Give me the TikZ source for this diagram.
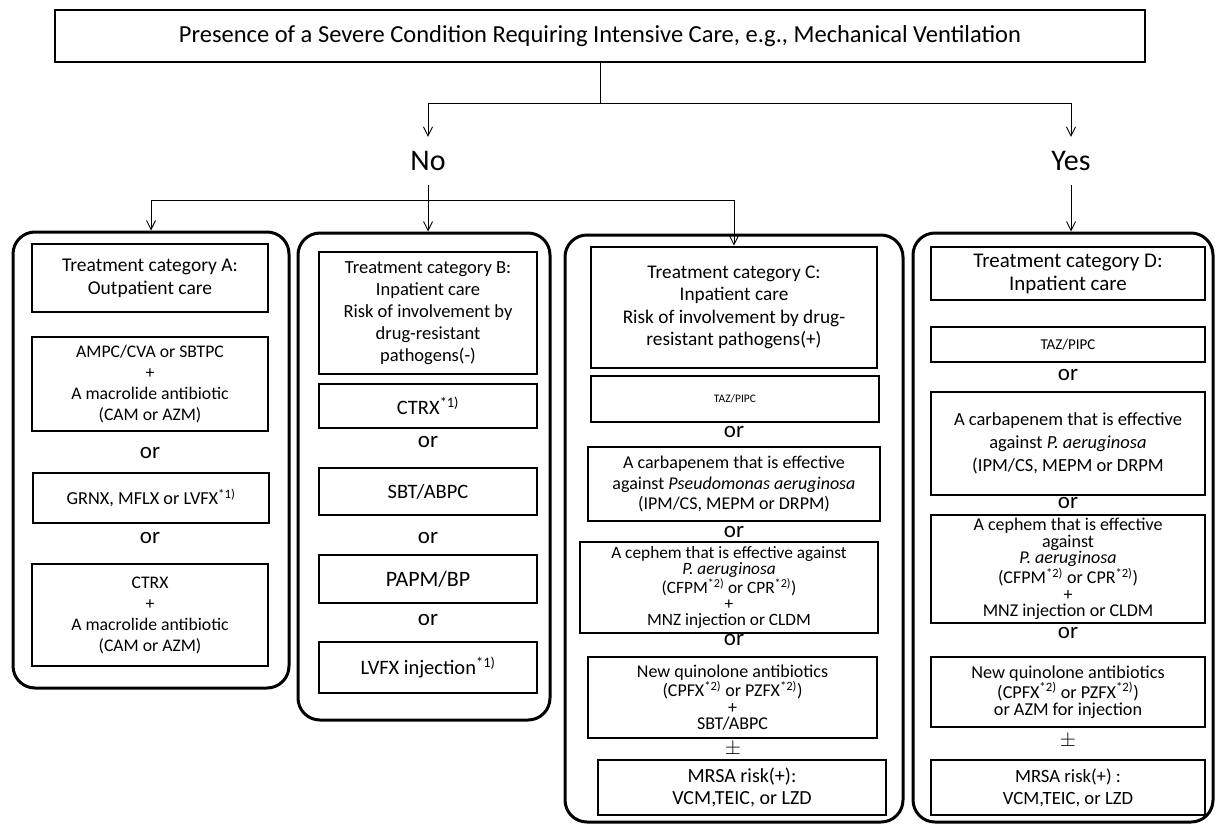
\documentclass[tikz,border=0pt]{standalone}
\usepackage{fontspec}
\setmainfont{Carlito}
\usetikzlibrary{arrows.meta}
\newcommand\fsz[2]{\fontsize{#1}{#2}\selectfont}
\begin{document}
\begin{tikzpicture}[x=1pt,y=-1pt,
  box/.style={draw, line width=2.8pt, rectangle, align=center, inner sep=1pt},
  cont/.style={draw, line width=3pt, rounded corners=22pt, rectangle},
  arr/.style={-{Straight Barb[length=9pt,width=9pt]}, line width=0.9pt},
  ln/.style={line width=0.9pt},
  ortxt/.style={font=\fsz{23}{23}, inner sep=0pt},
  pmtxt/.style={font=\fsz{20}{20}, inner sep=0pt}]
\useasboundingbox (0,0) rectangle (1217,824);
% top
\node[box, minimum width=1090, minimum height=52, font=\fsz{24.5}{28}] (top) at (600,36)
  {Presence of a Severe Condition Requiring Intensive Care, e.g., Mechanical Ventilation};
\node[inner sep=0pt, minimum height=48, font=\fsz{30}{30}] (no) at (428,161) {No};
\node[inner sep=0pt, minimum height=48, font=\fsz{30}{30}] (yes) at (1071,161) {Yes};
% containers
\node[cont, minimum width=276, minimum height=456] (A) at (151,460) {};
\node[cont, minimum width=252, minimum height=487] (B) at (424,476.5) {};
\node[cont, minimum width=338, minimum height=587] (C) at (734,528.5) {};
\node[cont, minimum width=300, minimum height=589] (D) at (1063,527.5) {};
% A
\node[box, minimum width=236, minimum height=68, font=\fsz{19.5}{23}] (At) at (150,278)
  {Treatment category A:\\Outpatient care};
\node[box, minimum width=236, minimum height=94, font=\fsz{17.7}{21}] (A1) at (150,384)
  {AMPC/CVA or SBTPC\\+\\A macrolide antibiotic\\(CAM or AZM)};
\node[ortxt] (Ao1) at (150,453) {or};
\node[box, minimum width=236, minimum height=50, font=\fsz{18.3}{21}] (A2) at (151,498)
  {GRNX, MFLX or LVFX\textsuperscript{*1)}};
\node[ortxt] (Ao2) at (150,538) {or};
\node[box, minimum width=236, minimum height=102, font=\fsz{17.7}{21}] (A3) at (150,615)
  {CTRX\\+\\A macrolide antibiotic\\(CAM or AZM)};
% B
\node[box, minimum width=218, minimum height=122, font=\fsz{18.5}{22}] (Bt) at (428,313)
  {Treatment category B:\\Inpatient care\\Risk of involvement by\\drug-resistant\\pathogens(-)};
\node[box, minimum width=218, minimum height=44, font=\fsz{20.5}{24}] (B1) at (428,406)
  {CTRX\textsuperscript{*1)}};
\node[ortxt] (Bo1) at (428,442) {or};
\node[box, minimum width=218, minimum height=47, font=\fsz{20.5}{24}] (B2) at (428,491.5)
  {SBT/ABPC};
\node[ortxt] (Bo2) at (428,538) {or};
\node[box, minimum width=218, minimum height=48, font=\fsz{22}{26}] (B3) at (428,579)
  {PAPM/BP};
\node[ortxt] (Bo3) at (428,620) {or};
\node[box, minimum width=218, minimum height=51, font=\fsz{20.5}{23}] (B4) at (428,667.5)
  {LVFX injection\textsuperscript{*1)}};
% C
\node[box, minimum width=286, minimum height=121, font=\fsz{19.3}{22.3}] (Ct) at (734,307.5)
  {Treatment category C:\\Inpatient care\\Risk of involvement by drug-\\resistant pathogens(+)};
\node[box, minimum width=288, minimum height=46, font=\fsz{11.5}{14}] (C1) at (735,399)
  {TAZ/PIPC};
\node[ortxt] (Co1) at (734,432) {or};
\node[box, minimum width=292, minimum height=74, font=\fsz{18}{20.5}] (C2) at (734,484)
  {A carbapenem that is effective\\against \textit{Pseudomonas aeruginosa}\\(IPM/CS, MEPM or DRPM)};
\node[ortxt] (Co2) at (734,532) {or};
\node[box, minimum width=298, minimum height=91, font=\fsz{17.3}{16}] (C3) at (729,587.5)
  {A cephem that is effective against\\\textit{P. aeruginosa}\\(CFPM\textsuperscript{*2)} or CPR\textsuperscript{*2)})\\+\\MNZ injection or CLDM};
\node[ortxt] (Co3) at (734,640) {or};
\node[box, minimum width=289, minimum height=81, font=\fsz{18}{16.5}] (C4) at (732.5,697.5)
  {New quinolone antibiotics\\(CPFX\textsuperscript{*2)} or PZFX\textsuperscript{*2)})\\+\\SBT/ABPC};
\node[pmtxt] (Cpm) at (733,749) {$\pm$};
\node[box, minimum width=288, minimum height=55, font=\fsz{20}{22}] (C5) at (742,787.5)
  {MRSA risk(+):\\VCM,TEIC, or LZD};
% D
\node[box, minimum width=274, minimum height=53, font=\fsz{20.9}{23}] (Dt) at (1068,273.5)
  {Treatment category D:\\Inpatient care};
\node[box, minimum width=274, minimum height=35, font=\fsz{15}{18}] (D1) at (1068,344.5)
  {TAZ/PIPC};
\node[ortxt] (Do1) at (1068,375) {or};
\node[box, minimum width=274, minimum height=103, font=\fsz{18.5}{23}] (D2) at (1068,443.5)
  {A carbapenem that is effective\\against \textit{P. aeruginosa}\\(IPM/CS, MEPM or DRPM};
\node[ortxt] (Do2) at (1068,503) {or};
\node[box, minimum width=274, minimum height=108, font=\fsz{18}{16.5}] (D3) at (1068,569)
  {A cephem that is effective\\against\\\textit{P. aeruginosa}\\(CFPM\textsuperscript{*2)} or CPR\textsuperscript{*2)})\\+\\MNZ injection or CLDM};
\node[ortxt] (Do3) at (1068,633) {or};
\node[box, minimum width=274, minimum height=70, font=\fsz{18.2}{17}] (D4) at (1068,692)
  {New quinolone antibiotics\\(CPFX\textsuperscript{*2)} or PZFX\textsuperscript{*2)})\\or AZM for injection};
\node[pmtxt] (Dpm) at (1068,741) {$\pm$};
\node[box, minimum width=274, minimum height=55, font=\fsz{18.7}{22}] (D5) at (1068,787.5)
  {MRSA risk(+) :\\VCM,TEIC, or LZD};
% connectors
\coordinate (j) at (600,103);
\coordinate (k) at (428,200);
\draw[ln] (top.south) -- (j);
\draw[arr] (j) -| (no.north);
\draw[arr] (j) -| (yes.north);
\draw[ln] (no.south) -- (k);
\draw[arr] (k) -- (k |- B.north);
\draw[arr] (k) -| (A.north);
\draw[arr] (k) -| (Ct.north);
\draw[arr] (yes.south) -- (yes.south |- D.north);
\end{tikzpicture}
\end{document}
